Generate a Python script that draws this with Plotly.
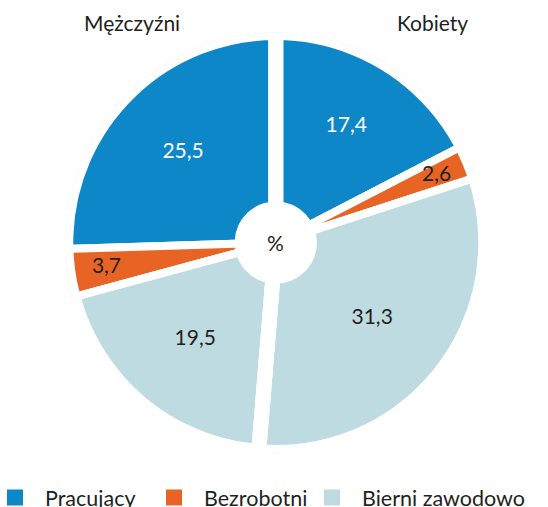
import plotly.graph_objects as go

# ---- data (clockwise from 12 o'clock: Kobiety, then Mężczyźni) ----
groups = ["Kobiety", "Mężczyźni"]
statuses = ["Pracujący", "Bezrobotni", "Bierni zawodowo"]
kobiety = [17.4, 2.6, 31.3]          # Pracujący, Bezrobotni, Bierni zawodowo
mezczyzni = [25.5, 3.7, 19.5]        # Pracujący, Bezrobotni, Bierni zawodowo
center_label = "%"

# ---- styles ----
colors = {"Pracujący": "#0E87C9", "Bezrobotni": "#E86424", "Bierni zawodowo": "#BEDBE1"}
text_colors = {"Pracujący": "#FFFFFF", "Bezrobotni": "#231F20", "Bierni zawodowo": "#231F20"}
DARK = "#231F20"
FONT = "Lato, Carlito, 'Open Sans', sans-serif"
FS = 21

W = 548
H = 518            # figure is a bit taller than the 507px window: legend is cut at the bottom as in the reference
cx, cy, R = 275.8, 242.5, 210.0
dom_x = [(cx - R) / W, (cx + R) / W]
dom_y = [(H - cy - R) / H, (H - cy + R) / H]
HOLE = 0.16
# radial position of value labels (fraction of radius), per slice in drawing order
label_r = [0.645, 0.83, 0.585, 0.60, 0.815, 0.615]
# left x (px) of each legend entry
legend_x_px = [0, 159, 317]

# slice order around the circle (clockwise): K-Prac, K-Bezr, K-Biern, M-Biern, M-Bezr, M-Prac
order = [(0, 0), (0, 1), (0, 2), (1, 2), (1, 1), (1, 0)]
vals = [[kobiety, mezczyzni][g][s] for g, s in order]
stat = [statuses[s] for g, s in order]
total = sum(vals)
cum, start = [], 0.0
for v in vals:
    cum.append(start)
    start += v
theta_c = [360.0 * (c + v / 2) / total for c, v in zip(cum, vals)]
widths = [360.0 * v / total for v in vals]

fig = go.Figure()

for st in statuses:
    idx = [i for i in range(6) if stat[i] == st]
    fig.add_trace(go.Barpolar(
        r=[1 - HOLE] * len(idx), base=[HOLE] * len(idx),
        theta=[theta_c[i] for i in idx], width=[widths[i] for i in idx],
        marker=dict(color=colors[st], line=dict(color="white", width=8)),
        showlegend=False, name=st, hoverinfo="skip",
    ))

# wider white separator between the two halves
half_vals = [sum(kobiety), sum(mezczyzni)]
half_theta = [180.0 * half_vals[0] / total, 360.0 * half_vals[0] / total + 180.0 * half_vals[1] / total]
half_width = [360.0 * v / total for v in half_vals]
fig.add_trace(go.Barpolar(
    r=[1 - HOLE] * 2, base=[HOLE] * 2, theta=half_theta, width=half_width,
    marker=dict(color="rgba(0,0,0,0)", line=dict(color="white", width=15)),
    showlegend=False, hoverinfo="skip",
))

# value labels
fig.add_trace(go.Scatterpolar(
    r=label_r, theta=theta_c, mode="text",
    text=[f"{v:.1f}".replace(".", ",") for v in vals],
    textposition="middle center",
    textfont=dict(family=FONT, size=FS, color=[text_colors[s] for s in stat]),
    showlegend=False, hoverinfo="skip",
))

# legend entries (one legend box per entry, evenly spaced like the reference)
legend_ids = ["legend", "legend2", "legend3"]
for st, lid in zip(statuses, legend_ids):
    fig.add_trace(go.Scatterpolar(
        r=[None], theta=[None], mode="markers", name=st, legend=lid,
        marker=dict(symbol="square", size=18, color=colors[st]),
    ))

ann_font = dict(family=FONT, size=FS, color=DARK)
fig.add_annotation(text=center_label, x=cx / W, y=(H - cy) / H, xref="paper", yref="paper",
                   xanchor="center", yanchor="middle", showarrow=False, font=ann_font)
fig.add_annotation(text=groups[1], x=131.5 / W, y=(H - 22) / H, xref="paper", yref="paper",
                   xanchor="center", yanchor="middle", showarrow=False, font=ann_font)
fig.add_annotation(text=groups[0], x=432 / W, y=(H - 22) / H, xref="paper", yref="paper",
                   xanchor="center", yanchor="middle", showarrow=False, font=ann_font)

legend_style = dict(orientation="h", xanchor="left", y=0, yanchor="bottom",
                    font=dict(family=FONT, size=21.5, color=DARK),
                    itemwidth=50, indentation=-15,
                    itemsizing="trace", bgcolor="rgba(0,0,0,0)")

fig.update_layout(
    width=W, height=H,
    margin=dict(l=0, r=0, t=0, b=0, autoexpand=False),
    paper_bgcolor="white",
    polar=dict(
        domain=dict(x=dom_x, y=dom_y),
        bgcolor="rgba(0,0,0,0)",
        radialaxis=dict(visible=False, range=[0, 1]),
        angularaxis=dict(visible=False, rotation=90, direction="clockwise"),
        barmode="overlay",
    ),
    showlegend=True,
    font=dict(family=FONT),
)
for lid, lx in zip(legend_ids, legend_x_px):
    fig.update_layout({lid: dict(legend_style, x=lx / W)})

fig.write_html("out.html", config={"displayModeBar": False},
               post_script="document.body.style.margin='0';document.body.style.overflow='hidden';")
